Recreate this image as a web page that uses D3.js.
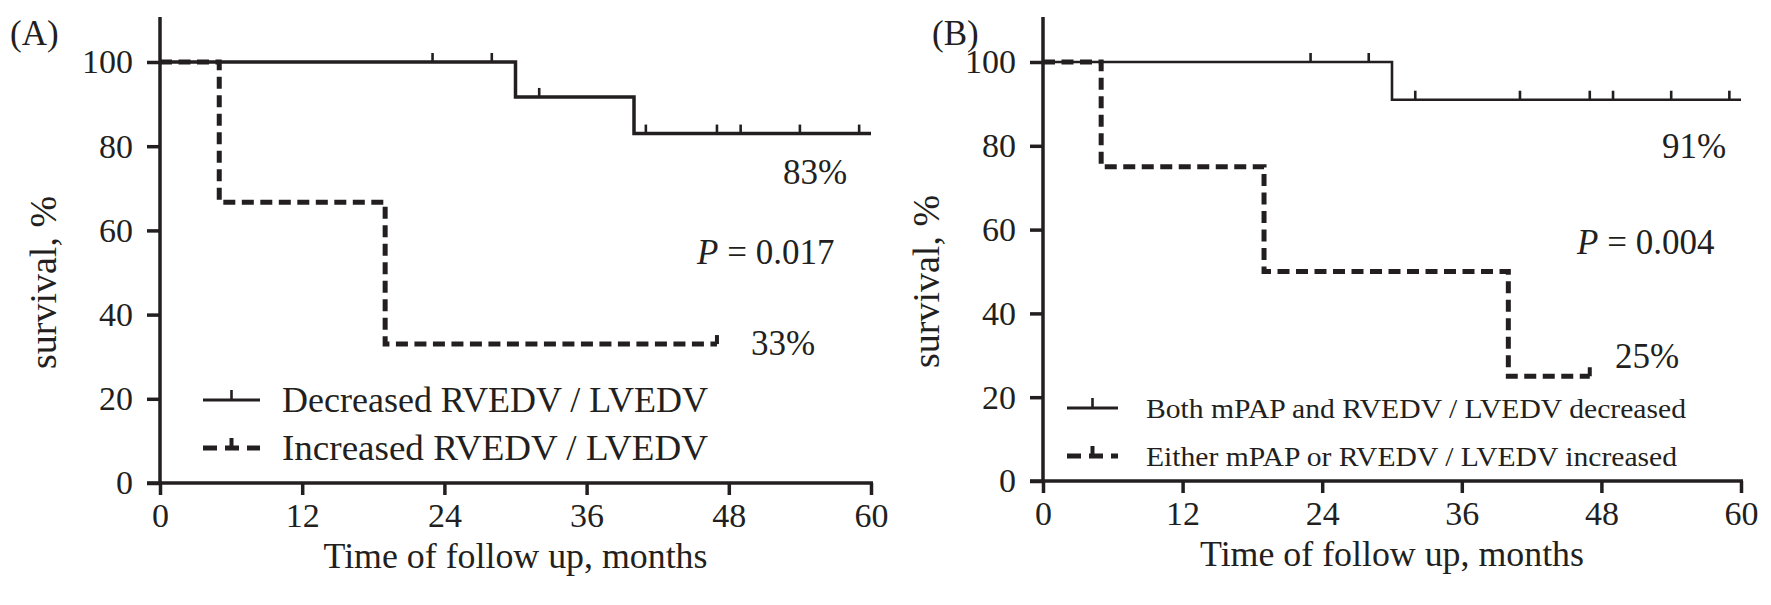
<!DOCTYPE html>
<html>
<head>
<meta charset="utf-8">
<script src="https://cdn.jsdelivr.net/npm/d3@7"></script>
<style>
  html, body { margin: 0; padding: 0; background: #fff; }
  svg { display: block; }
  text { font-family: "Liberation Serif", "Times New Roman", serif; fill: #231f20; }
</style>
</head>
<body>
<svg id="chart" width="1771" height="605"></svg>
<script>
// Kaplan–Meier step data (months, survival %)
const monthTicks = [0, 12, 24, 36, 48, 60];
const survivalTicks = [0, 20, 40, 60, 80, 100];

// Panel A
const aDecreasedTimes = [0, 30, 40];
const aDecreasedSurv = [100, 91.7, 83];
const aDecreasedEnd = 60;
const aDecreasedCensor = [23, 28, 32, 41, 47, 49, 54, 59];

const aIncreasedTimes = [0, 5, 19];
const aIncreasedSurv = [100, 66.7, 33];
const aIncreasedEnd = 47;
const aIncreasedCensor = [47];

// Panel B
const bBothTimes = [0, 30];
const bBothSurv = [100, 91];
const bBothEnd = 60;
const bBothCensor = [23, 28, 32, 41, 47, 49, 54, 59];

const bEitherTimes = [0, 5, 19, 40];
const bEitherSurv = [100, 75, 50, 25];
const bEitherEnd = 47;
const bEitherCensor = [47];

const panels = [
  {
    tag: "(A)", tagX: 10, tagY: 45,
    left: 160, right: 871, top: 62, bottom: 483, spineTop: 17,
    pText: "0.017", pX: 697, pY: 264,
    curves: [
      { times: aIncreasedTimes, surv: aIncreasedSurv, end: aIncreasedEnd, censor: aIncreasedCensor, dashed: true, width: 5 },
      { times: aDecreasedTimes, surv: aDecreasedSurv, end: aDecreasedEnd, censor: aDecreasedCensor, dashed: false, width: 3.5 }
    ],
    pctLabels: [ { text: "83%", x: 783, y: 184 }, { text: "33%", x: 751, y: 355 } ],
    legend: {
      symX0: 203, symX1: 260, textX: 282, fontSize: 35,
      rows: [
        { text: "Decreased RVEDV / LVEDV", dashed: false, symY: 400, textY: 412, len: 426 },
        { text: "Increased RVEDV / LVEDV", dashed: true, symY: 448, textY: 460, len: 426 }
      ]
    }
  },
  {
    tag: "(B)", tagX: 932, tagY: 45,
    left: 1043, right: 1741, top: 62, bottom: 481, spineTop: 17,
    pText: "0.004", pX: 1577, pY: 254,
    curves: [
      { times: bEitherTimes, surv: bEitherSurv, end: bEitherEnd, censor: bEitherCensor, dashed: true, width: 5 },
      { times: bBothTimes, surv: bBothSurv, end: bBothEnd, censor: bBothCensor, dashed: false, width: 2.6 }
    ],
    pctLabels: [ { text: "91%", x: 1662, y: 158 }, { text: "25%", x: 1615, y: 368 } ],
    legend: {
      symX0: 1067, symX1: 1118, textX: 1146, fontSize: 28,
      rows: [
        { text: "Both mPAP and RVEDV / LVEDV decreased", dashed: false, symY: 408, textY: 418, len: 540 },
        { text: "Either mPAP or RVEDV / LVEDV increased", dashed: true, symY: 456, textY: 466, len: 531 }
      ]
    }
  }
];

const ink = "#231f20";
const svg = d3.select("#chart");

function survivalAt(times, surv, t) {
  let v = surv[0];
  for (let i = 0; i < times.length; i++) if (times[i] <= t) v = surv[i];
  return v;
}

panels.forEach(p => {
  const x = d3.scaleLinear().domain([0, 60]).range([p.left, p.right]);
  const y = d3.scaleLinear().domain([0, 100]).range([p.bottom, p.top]);
  const g = svg.append("g");

  // panel tag
  g.append("text").attr("x", p.tagX).attr("y", p.tagY).attr("font-size", 35).text(p.tag);

  // survival curves (dashed first so the solid one sits on top)
  const line = d3.line().x(d => x(d[0])).y(d => y(d[1])).curve(d3.curveStepAfter);
  p.curves.forEach(c => {
    const pts = c.times.map((t, i) => [t, c.surv[i]]);
    pts.push([c.end, c.surv[c.surv.length - 1]]);
    g.append("path")
      .attr("d", line(pts))
      .attr("fill", "none")
      .attr("stroke", ink)
      .attr("stroke-width", c.width)
      .attr("stroke-dasharray", c.dashed ? "12,6.5" : null)
      .attr("stroke-linejoin", "miter");
    // censor marks
    g.selectAll(null).data(c.censor).enter().append("line")
      .attr("x1", d => x(d)).attr("x2", d => x(d))
      .attr("y1", d => y(survivalAt(c.times, c.surv, d)))
      .attr("y2", d => y(survivalAt(c.times, c.surv, d)) - 9)
      .attr("stroke", ink)
      .attr("stroke-width", c.dashed ? 4 : 2.6);
  });

  // axes
  const xAxis = d3.axisBottom(x).tickValues(monthTicks).tickSize(12).tickSizeOuter(0).tickPadding(8);
  const yAxis = d3.axisLeft(y).tickValues(survivalTicks).tickSize(13).tickSizeOuter(0).tickPadding(14);

  const gx = g.append("g").attr("transform", `translate(0,${p.bottom})`).call(xAxis);
  const gy = g.append("g").attr("transform", `translate(${p.left},0)`).call(yAxis);
  [gx, gy].forEach(a => {
    a.select(".domain").remove();
    a.selectAll(".tick line").attr("stroke", ink).attr("stroke-width", 3.5);
    a.selectAll(".tick text").attr("font-size", 34).attr("fill", ink)
      .attr("font-family", "Liberation Serif, Times New Roman, serif");
  });
  // axis spines
  g.append("line").attr("x1", p.left).attr("x2", p.left).attr("y1", p.spineTop).attr("y2", p.bottom)
    .attr("stroke", ink).attr("stroke-width", 3.5);
  g.append("line").attr("x1", p.left - 13).attr("x2", p.right + 2).attr("y1", p.bottom).attr("y2", p.bottom)
    .attr("stroke", ink).attr("stroke-width", 3.5);

  // axis titles
  g.append("text")
    .attr("x", (p.left + p.right) / 2).attr("y", p.bottom + 85)
    .attr("text-anchor", "middle").attr("font-size", 35)
    .attr("textLength", 384).attr("lengthAdjust", "spacingAndGlyphs")
    .text("Time of follow up, months");
  g.append("text")
    .attr("transform", `translate(${p.left - 104},${(p.top + p.bottom) / 2 + 10}) rotate(-90)`)
    .attr("text-anchor", "middle").attr("font-size", 38)
    .text("survival, %");

  // annotations
  p.pctLabels.forEach(l => {
    g.append("text").attr("x", l.x).attr("y", l.y).attr("font-size", 35).text(l.text);
  });
  const pt = g.append("text").attr("x", p.pX).attr("y", p.pY).attr("font-size", 35);
  pt.append("tspan").attr("font-style", "italic").text("P");
  pt.append("tspan").text(" = " + p.pText);

  // legend
  const L = p.legend;
  L.rows.forEach(r => {
    const mid = (L.symX0 + L.symX1) / 2;
    g.append("line").attr("x1", L.symX0).attr("x2", L.symX1).attr("y1", r.symY).attr("y2", r.symY)
      .attr("stroke", ink)
      .attr("stroke-width", r.dashed ? 5 : 3.2)
      .attr("stroke-dasharray", r.dashed ? "14,8" : null);
    g.append("line").attr("x1", mid).attr("x2", mid).attr("y1", r.symY).attr("y2", r.symY - 10)
      .attr("stroke", ink).attr("stroke-width", r.dashed ? 4 : 2.6);
    g.append("text").attr("x", L.textX).attr("y", r.textY).attr("font-size", L.fontSize)
      .attr("textLength", r.len).attr("lengthAdjust", "spacingAndGlyphs")
      .text(r.text);
  });
});
</script>
</body>
</html>
